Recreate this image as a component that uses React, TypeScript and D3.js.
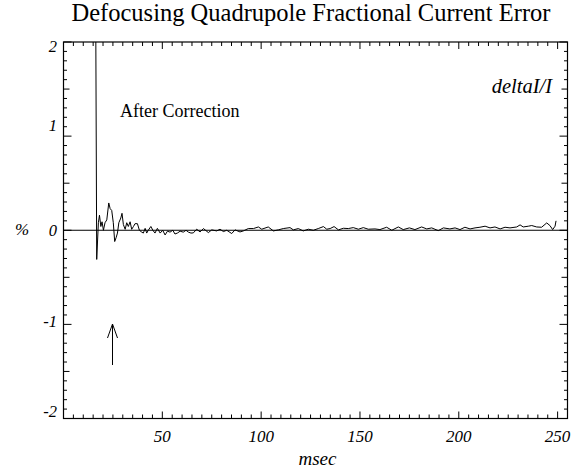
import React from "react";
import * as d3 from "d3";

const times = [
  15.6, 16.8, 17.65, 18.2, 18.9, 19.5, 20.2, 21.0, 21.9, 22.9, 23.6, 24.4, 25.2, 25.9, 26.6, 27.3, 28.0, 29.0, 29.6,
  30.3, 31.2, 32.0, 32.8, 33.7, 34.5, 35.4, 36.2, 37.4, 38.4, 39.6, 40.4, 41.3, 42.1, 42.9, 44.2, 45.2, 46.3, 47.5,
  48.9, 50.2, 51.4, 52.6, 53.9, 55.3, 56.4, 57.6, 59.0, 60.6, 62.0, 63.2, 64.5, 65.7, 67.4, 69.1, 70.8, 73.3, 75.0,
  77.5, 79.2, 80.9, 82.6, 85.1, 86.8, 89.3, 91.0, 93.5, 96.1, 98.6, 100.3, 103.6, 106.2, 108.7, 111.2, 114.6, 116.3,
  118.8, 121.3, 123.9, 126.4, 128.9, 131.5, 133.2, 134.9, 136.9, 139.1, 141.6, 144.1, 146.6, 149.2, 151.7, 154.2,
  157.6, 160.1, 163.5, 166.1, 169.4, 171.9, 175.0, 177.8, 181.2, 183.8, 186.3, 189.6, 192.2, 195.5, 198.1, 200.6,
  203.1, 205.7, 208.2, 210.7, 213.3, 215.8, 218.3, 220.9, 223.4, 225.9, 229.3, 231.0, 232.6, 235.2, 236.9, 239.4,
  241.9, 244.5, 246.1, 247.5, 248.7, 249.2,
];
const values = [
  6, -0.31, 0.08, 0.16, 0.04, 0.09, 0.0, 0.08, 0.11, 0.29, 0.23, 0.21, 0.08, -0.12, -0.08, -0.03, 0.08, 0.13, 0.18,
  0.06, 0.01, 0.08, 0.04, 0.09, 0.01, 0.04, 0.07, 0.07, 0.0, -0.02, -0.03, 0.02, -0.03, 0.0, 0.04, 0.0, -0.03, 0.02,
  -0.03, 0.0, -0.05, -0.01, -0.02, 0.0, -0.04, -0.03, -0.01, -0.02, 0.0, -0.02, -0.03, -0.028, 0.011, -0.018, 0.018,
  -0.025, 0.004, -0.007, 0.011, -0.014, 0, -0.035, 0.004, -0.018, -0.007, 0.018, 0.018, 0.035, 0.011, 0.035, -0.007,
  0.004, 0.018, 0.028, 0.004, 0.018, -0.007, 0.011, 0, 0.018, 0.039, 0.011, 0.018, 0.039, 0.004, 0.021, 0.018, 0.028,
  0.011, 0.028, 0.011, 0.014, 0.007, 0.032, 0, 0.035, 0.007, 0.025, 0.007, 0.035, 0.014, 0.025, -0.004, 0.025, 0.014,
  0.025, 0.007, 0.032, 0.014, 0.025, 0.032, 0.043, 0.025, 0.035, 0.014, 0.032, 0.025, 0.035, 0.057, 0.035, 0.043,
  0.05, 0.035, 0.032, 0.078, 0.05, 0.007, 0.043, 0.1,
];

const xTickLabels = [50, 100, 150, 200, 250];
const yTickLabels = [-2, -1, 0, 1, 2];

const title = "Defocusing Quadrupole Fractional Current Error";
const xTitle = "msec";
const yTitle = "%";
const seriesLabel = "deltaI/I";
const annotation = "After Correction";

const W = 587;
const H = 472;
const L = 63.5, R = 567.5, T = 42, B = 418.5;

// baseline offsets of the y tick labels relative to their tick (layout only)
const yLabelDy: Record<string, number> = { "2": 10, "1": -5, "0": 5.5, "-1": 2.5, "-2": -1.5 };

export default function App() {
  const x = d3.scaleLinear().domain([0, 255]).range([L, R]);
  const y = d3.scaleLinear().domain([-2, 2]).range([B, T]);
  const data = times.map((t, i) => [t, values[i]] as [number, number]);
  const line = d3.line<[number, number]>().x((d) => x(d[0])).y((d) => y(d[1]));

  const xMinor = d3.range(0, 256, 5);
  const yMinor = d3.range(-20, 21).map((v) => v / 10);
  const font = "'Liberation Serif', 'Times New Roman', Times, serif";

  const xLen = (v: number) => (v % 50 === 0 ? 7 : 4);
  const yLen = (v: number) => {
    const k = Math.round(v * 10);
    if (k % 10 === 0) return 8;
    if (k % 5 === 0) return 6;
    return 3.5;
  };

  return (
    <svg width={W} height={H} style={{ position: "absolute", left: 0, top: 0, background: "#fff" }}>
      <defs>
        <clipPath id="plotclip">
          <rect x={L} y={T} width={R - L} height={B - T} />
        </clipPath>
      </defs>
      <rect x={0} y={0} width={W} height={H} fill="#fff" />
      <text x={311} y={21} textAnchor="middle" fontFamily={font} fontSize={24.5} fill="#000">
        {title}
      </text>
      {/* zero line */}
      <line x1={L} x2={R} y1={y(0)} y2={y(0)} stroke="#000" strokeWidth={1} />
      {/* data */}
      <path d={line(data) || ""} fill="none" stroke="#000" strokeWidth={1} clipPath="url(#plotclip)" />
      {/* frame */}
      <rect x={L} y={T} width={R - L} height={B - T} fill="none" stroke="#000" strokeWidth={1.2} />
      {/* x ticks bottom & top */}
      {xMinor.map((v) => (
        <g key={"xt" + v}>
          <line x1={x(v)} x2={x(v)} y1={B} y2={B - xLen(v)} stroke="#000" strokeWidth={1} />
          <line x1={x(v)} x2={x(v)} y1={T} y2={T + xLen(v)} stroke="#000" strokeWidth={1} />
        </g>
      ))}
      {/* y ticks left & right */}
      {yMinor.map((v) => (
        <g key={"yt" + v}>
          <line x1={L} x2={L + yLen(v)} y1={y(v)} y2={y(v)} stroke="#000" strokeWidth={1} />
          <line x1={R} x2={R - yLen(v)} y1={y(v)} y2={y(v)} stroke="#000" strokeWidth={1} />
        </g>
      ))}
      {xTickLabels.map((v) => (
        <text key={"xl" + v} x={x(v)} y={442} textAnchor="middle" fontFamily={font} fontStyle="italic" fontSize={17} fill="#000">
          {v}
        </text>
      ))}
      {yTickLabels.map((v) => (
        <text key={"yl" + v} x={57} y={y(v) + yLabelDy[String(v)]} textAnchor="end" fontFamily={font} fontStyle="italic" fontSize={16.5} fill="#000">
          {v}
        </text>
      ))}
      <text x={(L + R) / 2 + 2} y={465} textAnchor="middle" fontFamily={font} fontStyle="italic" fontSize={19} fill="#000">
        {xTitle}
      </text>
      <text x={22} y={y(0) + 5} textAnchor="middle" fontFamily={font} fontStyle="italic" fontSize={17} fill="#000">
        {yTitle}
      </text>
      <text x={552} y={93} textAnchor="end" fontFamily={font} fontStyle="italic" fontSize={20.5} fill="#000">
        {seriesLabel}
      </text>
      <text x={120} y={117} fontFamily={font} fontSize={18} fill="#000">
        {annotation}
      </text>
      {/* arrow */}
      <line x1={112.5} x2={112.5} y1={365} y2={324} stroke="#000" strokeWidth={1} />
      <polyline points="107.5,338 112.5,324 117.5,338" fill="none" stroke="#000" strokeWidth={1} />
    </svg>
  );
}
